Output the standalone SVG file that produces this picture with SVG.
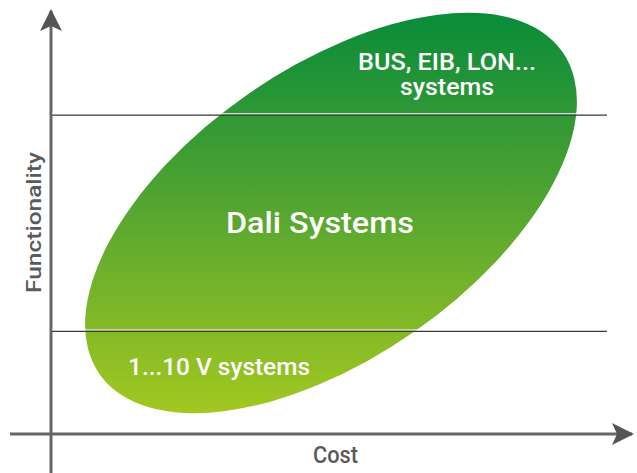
<svg xmlns="http://www.w3.org/2000/svg" width="637" height="473" viewBox="0 0 637 473">
<style>
.lbl{font-family:Roboto,"Liberation Sans",sans-serif;font-weight:500;fill:#ffffff}
.ax{font-family:Roboto,"Liberation Sans",sans-serif;font-weight:500;fill:#5a5a5a}
.axis{stroke:#666666;stroke-width:3;fill:none}
.band{stroke:#3a3a3a;stroke-width:1.2;fill:none}
.bandw{stroke:#ffffff;stroke-width:1.2;fill:none}
</style>
<defs>
<linearGradient id="g" gradientUnits="userSpaceOnUse" x1="0" y1="13" x2="0" y2="413" gradientTransform="rotate(34.8 331 213)">
<stop offset="0" stop-color="#098c3a"/>
<stop offset="0.3" stop-color="#369a34"/>
<stop offset="0.65" stop-color="#6fb02c"/>
<stop offset="1" stop-color="#a2c820"/>
</linearGradient>
<marker id="ah" viewBox="0 0 22 22" refX="20" refY="11" markerWidth="22" markerHeight="22" markerUnits="userSpaceOnUse" orient="auto">
<path d="M0,0 L22,11 L0,22 L5,11 Z" fill="#555555"/>
</marker>
</defs>
<g id="ellipse">
<ellipse cx="331" cy="213" rx="282" ry="145" transform="rotate(-34.8 331 213)" fill="url(#g)"/>
</g>
<g id="connectors">
<line class="axis" x1="51" y1="473" x2="51" y2="11" marker-end="url(#ah)"/>
<line class="axis" x1="10" y1="434" x2="632" y2="434" marker-end="url(#ah)"/>
<line class="bandw" x1="52" y1="113.8" x2="607" y2="113.8"/>
<line class="band" x1="52" y1="115.2" x2="607" y2="115.2"/>
<line class="bandw" x1="52" y1="330" x2="607" y2="330"/>
<line class="band" x1="52" y1="331.4" x2="607" y2="331.4"/>
</g>
<g id="top-label">
<text class="lbl" x="358" y="70" font-size="24" textLength="178" lengthAdjust="spacingAndGlyphs">BUS, EIB, LON...</text>
<text class="lbl" x="400" y="95" font-size="23" textLength="94" lengthAdjust="spacingAndGlyphs">systems</text>
</g>
<g id="mid-label">
<text class="lbl" x="226" y="233" font-size="30" textLength="188" lengthAdjust="spacingAndGlyphs">Dali Systems</text>
</g>
<g id="low-label">
<text class="lbl" x="128" y="375" font-size="24" textLength="182" lengthAdjust="spacingAndGlyphs">1...10 V systems</text>
</g>
<g id="axis-labels">
<text class="ax" x="313" y="463" font-size="23" textLength="45" lengthAdjust="spacingAndGlyphs">Cost</text>
<text class="ax" transform="translate(41 293) rotate(-90)" x="0" y="0" font-size="21" textLength="141" lengthAdjust="spacingAndGlyphs">Functionality</text>
</g>
</svg>
